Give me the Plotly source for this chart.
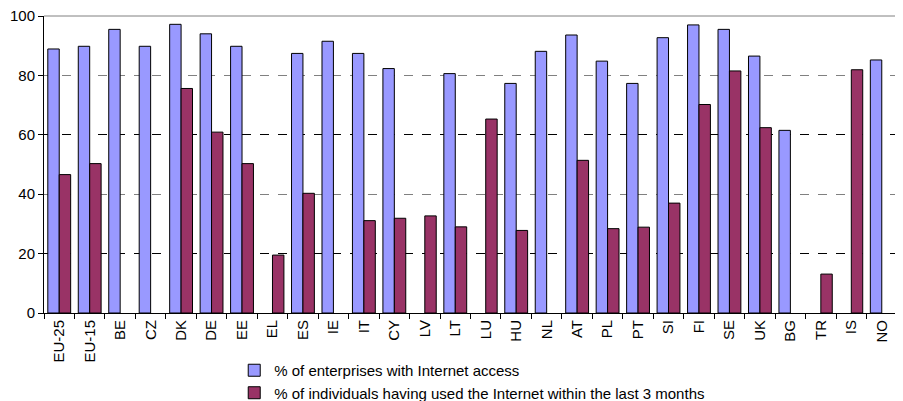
import plotly.graph_objects as go

categories = ["EU-25", "EU-15", "BE", "CZ", "DK", "DE", "EE", "EL", "ES", "IE", "IT", "CY", "LV", "LT",
              "LU", "HU", "NL", "AT", "PL", "PT", "SI", "FI", "SE", "UK", "BG", "TR", "IS", "NO"]
enterprises = [88.9, 89.8, 95.5, 89.8, 97.2, 94.0, 89.8, None, 87.4, 91.5, 87.4, 82.3, None, 80.6,
               None, 77.3, 88.1, 93.6, 84.8, 77.3, 92.7, 97.0, 95.5, 86.5, 61.5, None, None, 85.2]
individuals = [46.6, 50.3, None, None, 75.6, 60.9, 50.3, 19.5, 40.3, None, 31.1, 31.9, 32.7, 29.0,
               65.3, 27.8, None, 51.4, 28.4, 28.9, 37.0, 70.2, 81.5, 62.4, None, 13.1, 81.9, None]
series_names = ["% of enterprises with Internet access",
                "% of individuals having used the Internet within the last 3 months"]

FONT_FAMILY = "Liberation Sans"
font = dict(family=FONT_FAMILY, size=15, color="black")

fig = go.Figure()
# invisible traces that activate the two grid-only y axes
fig.add_trace(go.Scatter(x=[categories[0]], y=[0], yaxis="y2", mode="markers",
                         marker=dict(opacity=0), showlegend=False, hoverinfo="skip"))
fig.add_trace(go.Scatter(x=[categories[0]], y=[0], yaxis="y3", mode="markers",
                         marker=dict(opacity=0), showlegend=False, hoverinfo="skip"))
fig.add_trace(go.Bar(x=categories, y=enterprises, name=series_names[0],
                     marker=dict(color="#9999FF", line=dict(color="black", width=1))))
fig.add_trace(go.Bar(x=categories, y=individuals, name=series_names[1],
                     marker=dict(color="#993366", line=dict(color="black", width=1))))

# page body has an 8px default margin, so the figure is sized to fit the window
fig.update_layout(
    width=895, height=393,
    margin=dict(l=36, r=6, t=8, b=88, autoexpand=False),
    paper_bgcolor="white", plot_bgcolor="white",
    font=font,
    barmode="group", bargap=0.25, bargroupgap=0,
    showlegend=True,
    legend=dict(x=0.223, xanchor="left", y=-0.138, yanchor="top", orientation="v",
                font=font, bgcolor="rgba(0,0,0,0)", tracegroupgap=0, itemwidth=30),
    xaxis=dict(type="category", range=[-0.5, len(categories) - 0.5], tickangle=-90,
               tickson="boundaries", ticks="outside", ticklen=5, tickcolor="black",
               showline=True, linecolor="black", linewidth=1, showgrid=False, tickfont=font,
               automargin=False, ticklabeloverflow="allow"),
    yaxis=dict(range=[0, 100], tickvals=[0, 20, 40, 60, 80, 100], ticks="outside", ticklen=5,
               tickcolor="black", showline=True, linecolor="black", linewidth=1,
               showgrid=False, zeroline=False, tickfont=font, automargin=False,
               ticklabeloverflow="allow"),
    yaxis2=dict(range=[0, 100], overlaying="y", tickvals=[20, 60], showticklabels=False,
                showgrid=True, gridcolor="black", griddash="dash", gridwidth=1,
                showline=False, zeroline=False, ticks="", layer="below traces"),
    yaxis3=dict(range=[0, 100], overlaying="y", tickvals=[40, 80], showticklabels=False,
                showgrid=True, gridcolor="#808080", griddash="dash", gridwidth=1,
                showline=False, zeroline=False, ticks="", layer="below traces"),
    shapes=[
        dict(type="line", xref="paper", yref="paper", x0=0, x1=1, y0=1, y1=1,
             line=dict(color="#808080", width=1)),
        dict(type="line", xref="paper", yref="paper", x0=1, x1=1, y0=0, y1=1,
             line=dict(color="#808080", width=1)),
    ],
)

fig.write_html("out.html")
